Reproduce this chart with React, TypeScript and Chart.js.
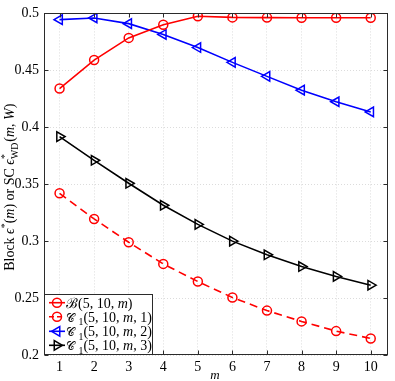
import React, { useEffect, useRef } from "react";
import { Chart, registerables } from "chart.js";
Chart.register(...registerables);

const mValues = [1, 2, 3, 4, 5, 6, 7, 8, 9, 10];
const blockB = [0.434, 0.459, 0.4785, 0.49, 0.4975, 0.4965, 0.4963, 0.4962, 0.4962, 0.4962];
const c1m1 = [0.342, 0.3195, 0.299, 0.28, 0.2645, 0.2505, 0.239, 0.2295, 0.221, 0.2145];
const c1m2 = [0.4945, 0.496, 0.491, 0.4815, 0.47, 0.457, 0.4447, 0.4326, 0.4224, 0.4135];
const c1m3 = [0.3918, 0.371, 0.3508, 0.3315, 0.3147, 0.3, 0.288, 0.2777, 0.269, 0.2613];
const yTicks = [0.2, 0.25, 0.3, 0.35, 0.4, 0.45, 0.5];
const xTicks = mValues;

const SERIF = '"Liberation Serif", "DejaVu Serif", serif';

type Seg = { t: string; it?: boolean; sub?: boolean; sup?: boolean; supsub?: [string, string]; pre?: number; scale?: number };

function segFont(size: number, it?: boolean) {
  return `${it ? "italic " : ""}${size}px ${SERIF}`;
}

function segSize(s: Seg, size: number) {
  return (s.sub || s.sup ? size * 0.7 : size) * (s.scale || 1);
}

function measureRich(ctx: CanvasRenderingContext2D, segs: Seg[], size: number) {
  let w = 0;
  for (const s of segs) {
    w += s.pre || 0;
    if (s.supsub) {
      ctx.font = segFont(size * 0.7, false);
      const a = ctx.measureText(s.supsub[0]).width;
      const b = ctx.measureText(s.supsub[1]).width;
      w += Math.max(a, b) + 1;
    } else {
      ctx.font = segFont(segSize(s, size), s.it);
      w += ctx.measureText(s.t).width;
    }
  }
  return w;
}

function drawRich(ctx: CanvasRenderingContext2D, segs: Seg[], x: number, y: number, size: number, color: string) {
  ctx.fillStyle = color;
  ctx.textBaseline = "alphabetic";
  ctx.textAlign = "left";
  let cx = x;
  for (const s of segs) {
    cx += s.pre || 0;
    if (s.supsub) {
      ctx.font = segFont(size * 0.7, false);
      const a = ctx.measureText(s.supsub[0]).width;
      const b = ctx.measureText(s.supsub[1]).width;
      ctx.fillText(s.supsub[0], cx, y - size * 0.4);
      ctx.fillText(s.supsub[1], cx, y + size * 0.25);
      cx += Math.max(a, b) + 1;
    } else {
      ctx.font = segFont(segSize(s, size), s.it);
      const dy = s.sub ? size * 0.25 : s.sup ? -size * 0.4 : 0;
      ctx.fillText(s.t, cx, y + dy);
      cx += ctx.measureText(s.t).width;
    }
  }
}

const yTitle: Seg[] = [
  { t: "Block " },
  { t: "\u03F5", it: true },
  { t: "*", sup: true },
  { t: "(" },
  { t: "m", it: true },
  { t: ") or SC " },
  { t: "\u03F5", it: true },
  { t: "", supsub: ["*", "WD"] },
  { t: "(" },
  { t: "m", it: true },
  { t: ", " },
  { t: "W", it: true },
  { t: ")" },
];

const SCRIPT_C = "\uD835\uDC9E";
const legendItems: { segs: Seg[]; color: string; dash: number[]; marker: string }[] = [
  { segs: [{ t: "\u212C" }, { t: "(5, 10, " }, { t: "m", it: true }, { t: ")" }], color: "#ff0000", dash: [], marker: "circle" },
  { segs: [{ t: SCRIPT_C, scale: 0.85 }, { t: "1", sub: true, pre: 3.5 }, { t: "(5, 10, " }, { t: "m", it: true }, { t: ", 1)" }], color: "#ff0000", dash: [5, 3], marker: "circle" },
  { segs: [{ t: SCRIPT_C, scale: 0.85 }, { t: "1", sub: true, pre: 3.5 }, { t: "(5, 10, " }, { t: "m", it: true }, { t: ", 2)" }], color: "#0000ff", dash: [], marker: "left" },
  { segs: [{ t: SCRIPT_C, scale: 0.85 }, { t: "1", sub: true, pre: 3.5 }, { t: "(5, 10, " }, { t: "m", it: true }, { t: ", 3)" }], color: "#000000", dash: [], marker: "right" },
];

function drawMarker(ctx: CanvasRenderingContext2D, kind: string, x: number, y: number, color: string) {
  ctx.save();
  ctx.strokeStyle = color;
  ctx.lineWidth = 1.5;
  ctx.setLineDash([]);
  ctx.beginPath();
  if (kind === "circle") {
    ctx.arc(x, y, 4.5, 0, Math.PI * 2);
  } else {
    const r = 5.5;
    const dir = kind === "left" ? -1 : 1;
    ctx.moveTo(x + dir * r, y);
    ctx.lineTo(x - dir * r * 0.5, y - r * 0.87);
    ctx.lineTo(x - dir * r * 0.5, y + r * 0.87);
    ctx.closePath();
  }
  ctx.stroke();
  ctx.restore();
}

const overlayPlugin = {
  id: "overlay",
  afterDraw(chart: any) {
    const ctx: CanvasRenderingContext2D = chart.ctx;
    const a = chart.chartArea;
    const xs = chart.scales.x;
    const ys = chart.scales.y;
    ctx.save();
    ctx.strokeStyle = "#2b2b2b";
    ctx.lineWidth = 1;
    ctx.setLineDash([]);
    const L = Math.round(a.left) + 0.5, R = Math.round(a.right) - 0.5;
    const T = Math.round(a.top) + 0.5, B = Math.round(a.bottom) - 0.5;
    ctx.strokeRect(L, T, R - L, B - T);
    ctx.beginPath();
    for (const v of yTicks) {
      const py = Math.round(ys.getPixelForValue(v)) + 0.5;
      ctx.moveTo(L, py); ctx.lineTo(L + 4, py);
      ctx.moveTo(R, py); ctx.lineTo(R - 4, py);
    }
    for (const v of xTicks) {
      const px = Math.round(xs.getPixelForValue(v)) + 0.5;
      ctx.moveTo(px, B); ctx.lineTo(px, B - 4);
      ctx.moveTo(px, T); ctx.lineTo(px, T + 4);
    }
    ctx.stroke();

    // legend
    const lx = L, ly = 294.5, lw = 108, lh = B - 294.5;
    ctx.fillStyle = "#ffffff";
    ctx.fillRect(lx, ly, lw, lh);
    ctx.strokeStyle = "#2b2b2b";
    ctx.strokeRect(lx, ly, lw, lh);
    const rows = [302.7, 316.7, 331.3, 345.3];
    legendItems.forEach((it, i) => {
      const ry = rows[i];
      ctx.save();
      ctx.strokeStyle = it.color;
      ctx.lineWidth = 1.6;
      ctx.setLineDash(it.dash);
      ctx.beginPath();
      ctx.moveTo(49, ry);
      ctx.lineTo(65, ry);
      ctx.stroke();
      ctx.restore();
      drawMarker(ctx, it.marker, 57, ry, it.color);
      drawRich(ctx, it.segs, 66, ry + 5, 14, "#000000");
    });

    // y title
    const cy = (a.top + a.bottom) / 2 + 3;
    ctx.save();
    ctx.translate(14, cy);
    ctx.rotate(-Math.PI / 2);
    const tw = measureRich(ctx, yTitle, 14);
    drawRich(ctx, yTitle, -tw / 2, 0, 14, "#000000");
    ctx.restore();

    // x title
    ctx.font = segFont(13, true);
    ctx.fillStyle = "#000";
    ctx.textAlign = "center";
    ctx.textBaseline = "alphabetic";
    ctx.fillText("m", 215, 379);
    ctx.restore();
  },
};

export default function App() {
  const ref = useRef<HTMLCanvasElement | null>(null);
  useEffect(() => {
    if (!ref.current) return;
    const mk = (vals: number[]) => mValues.map((m, i) => ({ x: m, y: vals[i] }));
    const base = {
      backgroundColor: "rgba(0,0,0,0)",
      borderWidth: 1.6,
      pointBorderWidth: 1.5,
      pointBackgroundColor: "rgba(0,0,0,0)",
    };
    const chart = new Chart(ref.current, {
      type: "line",
      data: {
        datasets: [
          {
            ...base,
            label: "B(5,10,m)",
            data: mk(blockB),
            borderColor: "#ff0000",
            pointStyle: "circle",
            pointRadius: 4.5,
            pointBorderColor: "#ff0000",
          },
          {
            ...base,
            label: "C1(5,10,m,1)",
            data: mk(c1m1),
            borderColor: "#ff0000",
            borderDash: [8, 5],
            pointStyle: "circle",
            pointRadius: 4.5,
            pointBorderColor: "#ff0000",
          },
          {
            ...base,
            label: "C1(5,10,m,2)",
            data: mk(c1m2),
            borderColor: "#0000ff",
            pointStyle: "triangle",
            pointRotation: -90,
            pointRadius: 5.5,
            pointBorderColor: "#0000ff",
          },
          {
            ...base,
            label: "C1(5,10,m,3)",
            data: mk(c1m3),
            borderColor: "#000000",
            pointStyle: "triangle",
            pointRotation: 90,
            pointRadius: 5.5,
            pointBorderColor: "#000000",
          },
        ],
      },
      options: {
        responsive: false,
        animation: false,
        devicePixelRatio: 1,
        layout: { padding: { top: 9, right: 4, left: 0, bottom: 0 } },
        plugins: { legend: { display: false }, tooltip: { enabled: false } },
        scales: {
          x: {
            type: "linear",
            min: 0.55,
            max: 10.5,
            afterBuildTicks: (s: any) => {
              s.ticks = xTicks.map((v) => ({ value: v }));
            },
            afterFit: (s: any) => {
              s.height = 26;
            },
            grid: { color: "#dcdcdc", drawTicks: false, lineWidth: 1 },
            border: { display: false, dash: [1, 2] },
            ticks: { color: "#000", font: { family: SERIF, size: 14 }, padding: 4, maxRotation: 0 },
          },
          y: {
            type: "linear",
            min: 0.2,
            max: 0.5,
            afterBuildTicks: (s: any) => {
              s.ticks = yTicks.map((v) => ({ value: v }));
            },
            afterFit: (s: any) => {
              s.width = 44;
            },
            grid: { color: "#dcdcdc", drawTicks: false, lineWidth: 1 },
            border: { display: false, dash: [1, 2] },
            ticks: {
              color: "#000",
              font: { family: SERIF, size: 14 },
              padding: 5,
              callback: (v: any) => String(Number(v)),
            },
          },
        },
      },
      plugins: [overlayPlugin],
    });
    return () => chart.destroy();
  }, []);
  return (
    <div style={{ position: "absolute", left: 0, top: 0, width: 395, height: 381, background: "#fff" }}>
      <canvas ref={ref} width={395} height={381} style={{ width: 395, height: 381, display: "block" }} />
    </div>
  );
}
